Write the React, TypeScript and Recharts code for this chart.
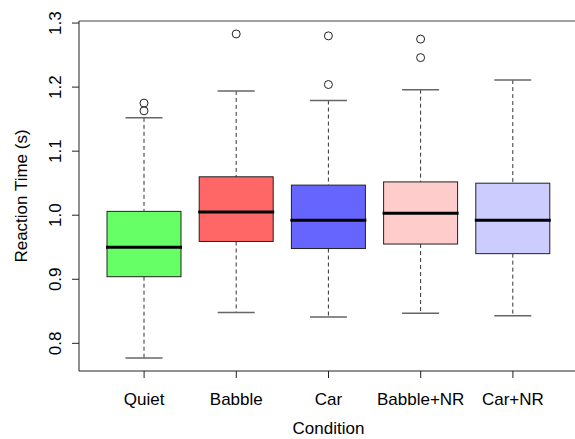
import React from "react";
import { Bar, ComposedChart, ReferenceLine, XAxis, YAxis } from "recharts";

const conditions = ["Quiet", "Babble", "Car", "Babble+NR", "Car+NR"];
const whiskerLow = [0.777, 0.848, 0.841, 0.847, 0.843];
const lowerQuartile = [0.904, 0.959, 0.948, 0.955, 0.94];
const medians = [0.95, 1.005, 0.992, 1.003, 0.992];
const upperQuartile = [1.006, 1.06, 1.047, 1.052, 1.05];
const whiskerHigh = [1.152, 1.194, 1.179, 1.196, 1.211];
const outliers = [[1.163, 1.175], [1.283], [1.204, 1.28], [1.246, 1.275], []];
const yTicks = [0.8, 0.9, 1.0, 1.1, 1.2, 1.3];
const yDomain = [0.7568, 1.3032];

const boxColors = ["#66FF66", "#FF6666", "#6666FF", "#FFCCCC", "#CCCCFF"];
const font = "'Liberation Sans', Arial, sans-serif";

const data = conditions.map((name, i) => ({
  name,
  low: whiskerLow[i],
  q1: lowerQuartile[i],
  median: medians[i],
  q3: upperQuartile[i],
  high: whiskerHigh[i],
  outliers: outliers[i],
  color: boxColors[i],
}));

// draws one box from the bar's pixel extent (low..high whiskers)
const BoxShape = (props: any) => {
  const { x, y, width, height, payload } = props;
  const k = height / (payload.high - payload.low);
  const py = (v: number) => y + (payload.high - v) * k;
  const cx = x + width / 2;
  const capHalf = width / 4;
  return (
    <g>
      <line x1={cx} x2={cx} y1={py(payload.high)} y2={py(payload.q3)} stroke="#333" strokeDasharray="4 3" />
      <line x1={cx} x2={cx} y1={py(payload.q1)} y2={py(payload.low)} stroke="#333" strokeDasharray="4 3" />
      <line x1={cx - capHalf} x2={cx + capHalf} y1={py(payload.high)} y2={py(payload.high)} stroke="#666" strokeWidth={1.5} />
      <line x1={cx - capHalf} x2={cx + capHalf} y1={py(payload.low)} y2={py(payload.low)} stroke="#666" strokeWidth={1.5} />
      <rect
        x={x}
        y={py(payload.q3)}
        width={width}
        height={py(payload.q1) - py(payload.q3)}
        fill={payload.color}
        stroke="#222"
      />
      <line x1={x - 1} x2={x + width + 1} y1={py(payload.median)} y2={py(payload.median)} stroke="#000" strokeWidth={3} />
      {payload.outliers.map((v: number, j: number) => (
        <circle key={j} cx={cx} cy={py(v)} r={4} fill="none" stroke="#222" />
      ))}
    </g>
  );
};

const XTick = (props: any) => {
  const { x, y, payload } = props;
  return (
    <text x={x} y={y + 25} textAnchor="middle" fontSize={17} fontFamily={font} fill="#000">
      {payload.value}
    </text>
  );
};

const YTick = (props: any) => {
  const { x, y, payload } = props;
  const bx = x - 9;
  return (
    <text
      x={bx}
      y={y}
      transform={`rotate(-90, ${bx}, ${y})`}
      textAnchor="middle"
      fontSize={17}
      fontFamily={font}
      fill="#000"
    >
      {Number(payload.value).toFixed(1)}
    </text>
  );
};

const App = () => {
  return (
    <div style={{ position: "absolute", left: 0, top: 0, width: 575, height: 439, overflow: "hidden", background: "#fff" }}>
      <ComposedChart width={578} height={439} data={data} margin={{ top: 21, right: 0, bottom: 0, left: 0 }}>
        <XAxis
          dataKey="name"
          height={68}
          padding={{ left: 19, right: 19 }}
          tick={<XTick />}
          tickSize={7}
          axisLine={{ stroke: "#222" }}
          tickLine={{ stroke: "#222" }}
          interval={0}
          label={{
            content: (p: any) => {
              const vb = p.viewBox;
              return (
                <text x={vb.x + vb.width / 2} y={434} textAnchor="middle" fontSize={17} fontFamily={font} fill="#000">
                  Condition
                </text>
              );
            },
          }}
        />
        <YAxis
          type="number"
          domain={yDomain}
          ticks={yTicks}
          width={79}
          tick={<YTick />}
          tickSize={7}
          axisLine={{ stroke: "#222" }}
          tickLine={{ stroke: "#222" }}
          allowDataOverflow
          label={{
            content: (p: any) => {
              const vb = p.viewBox;
              const cy = vb.y + vb.height / 2;
              return (
                <text
                  x={27}
                  y={cy}
                  transform={`rotate(-90, 27, ${cy})`}
                  textAnchor="middle"
                  fontSize={17}
                  fontFamily={font}
                  fill="#000"
                >
                  Reaction Time (s)
                </text>
              );
            },
          }}
        />
        <ReferenceLine y={yDomain[1]} stroke="#444" />
        <Bar
          dataKey={(d: any) => [d.low, d.high]}
          barSize={74}
          shape={<BoxShape />}
          isAnimationActive={false}
        />
      </ComposedChart>
    </div>
  );
};

export default App;
